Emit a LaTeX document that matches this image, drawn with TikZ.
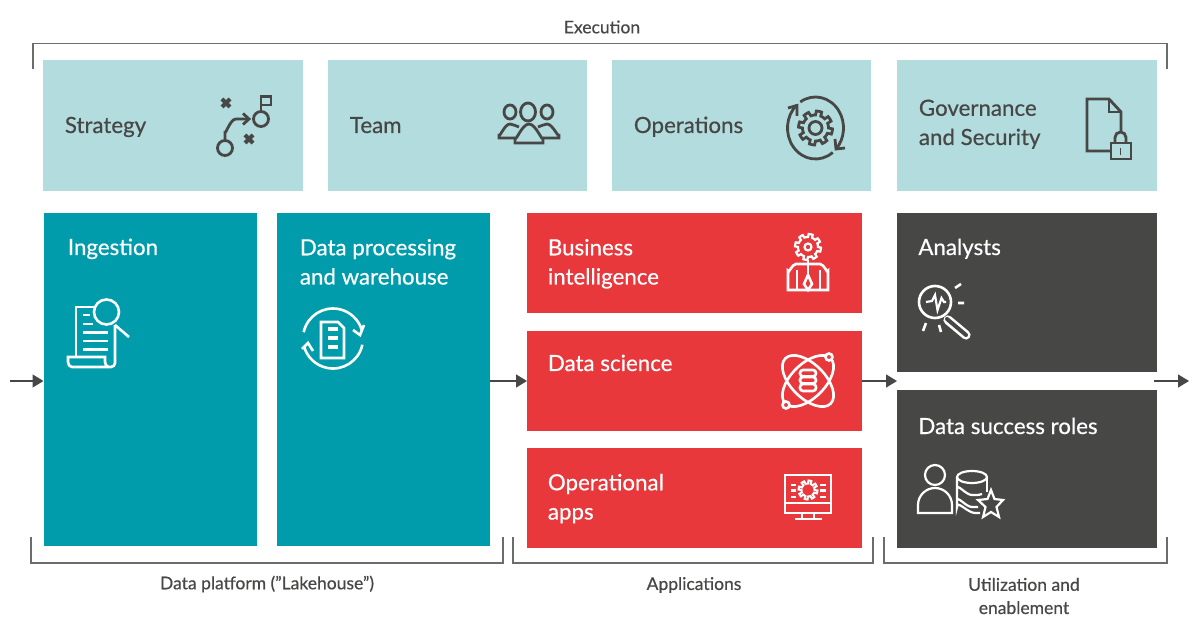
\documentclass[tikz,border=0pt]{standalone}
\usepackage{fontspec}
\setmainfont{Lato}[RawFeature={embolden=0.5}]
\usetikzlibrary{arrows.meta}
\definecolor{paleteal}{HTML}{B2DCDE}
\definecolor{deepteal}{HTML}{009CAB}
\definecolor{brightred}{HTML}{E8383C}
\definecolor{charcoal}{HTML}{474746}
\tikzset{
  panel/.style={inner sep=0pt, outer sep=0pt, anchor=north west},
  title/.style={inner sep=0pt, anchor=base west, align=left, font=\fontsize{11.15}{14.6}\selectfont},
  caption/.style={inner sep=0pt, align=center, text=charcoal, font=\fontsize{8.75}{11.6}\selectfont},
  link/.style={charcoal, line width=0.7pt, -{Triangle[length=5.5pt,width=6.5pt]}},
  bracket/.style={charcoal!80, line width=0.65pt},
  darkicon/.style={charcoal, line width=1.4pt},
  lighticon/.style={white, line width=1.3pt}
}
% a gear outline: centre x, centre y, inner radius, outer radius
\newcommand{\geartrace}[4]{plot[samples=121, domain=0:360, variable=\t] ({#1+(#3+(#4-#3)*(sin(8*\t)>0))*cos(\t)},{#2+(#3+(#4-#3)*(sin(8*\t)>0))*sin(\t)}) -- cycle}
\begin{document}
\begin{tikzpicture}[x=0.5pt,y=-0.5pt]
    \useasboundingbox (0,0) rectangle (1200,636);

    % Top row
    \node[panel, fill=paleteal, minimum width=130pt, minimum height=65.5pt] (strategy) at (43,60) {};
    \node[panel, fill=paleteal, minimum width=129.5pt, minimum height=65.5pt] (team) at (328,60) {};
    \node[panel, fill=paleteal, minimum width=129.5pt, minimum height=65.5pt] (operations) at (612,60) {};
    \node[panel, fill=paleteal, minimum width=130pt, minimum height=65.5pt] (governance) at (897,60) {};
    \node[title, text=charcoal] (strategytext) at (64.5,133) {Strategy};
    \node[title, text=charcoal] (teamtext) at (349.5,133) {Team};
    \node[title, text=charcoal] (operationstext) at (633.5,133) {Operations};
    \node[title, text=charcoal] (governancetext) at (918.5,145) {Governance\\and Security};

    % Data platform
    \node[panel, fill=deepteal, minimum width=106.75pt, minimum height=166.5pt] (ingestion) at (43.5,213) {};
    \node[panel, fill=deepteal, minimum width=106.5pt, minimum height=166.5pt] (processing) at (277,213) {};
    \node[title, text=white] (ingestiontext) at (67.5,255) {Ingestion};
    \node[title, text=white] (processingtext) at (299.5,284.5) {Data processing\\and warehouse};

    % Applications
    \node[panel, fill=brightred, minimum width=167.5pt, minimum height=50pt] (business) at (527,213) {};
    \node[panel, fill=brightred, minimum width=167.5pt, minimum height=50pt] (science) at (527,331) {};
    \node[panel, fill=brightred, minimum width=167.5pt, minimum height=50pt] (apps) at (527,448) {};
    \node[title, text=white] (businesstext) at (547.5,284.5) {Business\\intelligence};
    \node[title, text=white] (sciencetext) at (547.5,371) {Data science};
    \node[title, text=white] (appstext) at (547.5,519.5) {Operational\\apps};

    % Utilization
    \node[panel, fill=charcoal, minimum width=130pt, minimum height=79.5pt] (analysts) at (897,213) {};
    \node[panel, fill=charcoal, minimum width=130pt, minimum height=79pt] (roles) at (897,390) {};
    \node[title, text=white] (analyststext) at (918,255) {Analysts};
    \node[title, text=white] (rolestext) at (918,434) {Data success roles};

    % Brackets and their captions
    \draw[bracket] (33,69) -- (33,43.5) -- (1167,43.5) -- (1167,69);
    \draw[bracket] (31,537) -- (31,563) -- (503,563) -- (503,537);
    \draw[bracket] (513,537) -- (513,563) -- (873,563) -- (873,537);
    \draw[bracket] (884,537) -- (884,563) -- (1167,563) -- (1167,537);
    \node[caption] (execution) at (602,27) {Execution};
    \node[caption] (platform) at (267,584) {Data platform (”Lakehouse”)};
    \node[caption] (applications) at (694,585) {Applications};
    \node[caption] (utilization) at (1024,596) {Utilization and\\enablement};

    % Flow through the picture
    \coordinate (flowin) at (10,381);
    \coordinate (flowout) at (1189,381);
    \draw[link] (flowin) -- (flowin -| ingestion.west);
    \draw[link] (flowin -| processing.east) -- (flowin -| science.west);
    \draw[link] (flowin -| science.east) -- (flowin -| analysts.west);
    \draw[link, shorten <=-1.5pt] (flowout -| analysts.east) -- (flowout);

    % Strategy icon
    \draw[darkicon] (225,148) circle (7.5) (261,119) circle (7.5);
    \draw[darkicon] (225,140.5) -- (225,131) to[out=-90,in=180] (236,119) -- (248,119);
    \draw[darkicon] (243,113.5) -- (249,119) -- (243,124.5);
    \draw[darkicon] (261,111.5) -- (261,96.5) -- (271,96.5) -- (271,105) -- (261,105);
    \draw[darkicon, line width=2pt] (222,99) -- (230,107) (230,99) -- (222,107);
    \draw[darkicon, line width=2pt] (245,135) -- (253,143) (253,135) -- (245,143);

    % Team icon
    \draw[darkicon] (510,112) ellipse (6 and 7) (528,112) ellipse (7.5 and 9) (547,112) ellipse (6 and 7);
    \draw[darkicon] (515,138) -- (499,138) -- (499,134) to[out=-90,in=180] (510,124) to[out=0,in=170] (519,127);
    \draw[darkicon] (538,127) to[out=10,in=180] (547,124) to[out=0,in=-90] (559,134) -- (559,138) -- (543,138);
    \draw[darkicon] (515,143) -- (515,137) to[out=-90,in=180] (529,124) to[out=0,in=-90] (543,137) -- (543,143) -- cycle;

    % Operations icon
    \draw[darkicon] \geartrace{815.5}{128}{13}{17};
    \draw[darkicon] (815.5,128) circle (6.5);
    \draw[darkicon] (815.5,128) ++(-123:28 and 31) arc[start angle=-123, end angle=42, x radius=28, y radius=31];
    \draw[darkicon] (815.5,128) ++(52:28 and 31) arc[start angle=52, end angle=228, x radius=28, y radius=31];
    \draw[darkicon] (788,108) -- (797,105.5) -- (797,116);
    \draw[darkicon] (835,139) -- (836,149) -- (845,148);

    % Governance icon
    \draw[darkicon] (1110,151) -- (1087,151) -- (1087,99) -- (1109,99) -- (1121,112) -- (1121,132);
    \draw[darkicon] (1109,99) -- (1109,112) -- (1121,112);
    \draw[darkicon] (1111,143) rectangle (1131,159);
    \draw[darkicon] (1115,143) -- (1115,137.5) arc[start angle=180, end angle=360, radius=5.5] -- (1126,143);
    \draw[darkicon, line width=0.9pt] (1120.5,148) -- (1120.5,155);

    % Ingestion icon
    \draw[lighticon] (76,357) -- (76,307) -- (96,307);
    \draw[lighticon] (115,325) -- (115,363) to[out=-90,in=0] (111,367) -- (72,367) to[out=180,in=-90] (68,362) -- (68,357) -- (105,357) -- (105,362) to[out=-90,in=180] (109,367);
    \draw[lighticon] (106.5,312) circle (12.5);
    \draw[lighticon] (115,325) -- (129,337);
    \draw[lighticon] (83,315) -- (90,315) (83,324) -- (93,324) (83,332.5) -- (108,332.5) (83,341) -- (108,341) (83,349.5) -- (108,349.5);

    % Processing icon
    \draw[lighticon] (321,358) -- (321,322) -- (338,322) -- (344,328) -- (344,358) -- cycle;
    \draw[lighticon, line width=2.2pt] (328,329) -- (338,329) (328,338) -- (338,338) (328,347) -- (338,347);
    \draw[lighticon] (333,338.5) ++(192:30) arc[start angle=192, end angle=345, radius=30];
    \draw[lighticon] (333,338.5) ++(12:30) arc[start angle=12, end angle=165, radius=30];
    \draw[lighticon] (353,330) -- (360,335) -- (364,325);
    \draw[lighticon] (302,349) -- (308,343) -- (313,351);

    % Business intelligence icon
    \draw[lighticon, line width=1.1pt] \geartrace{808}{247}{10}{13};
    \draw[lighticon, line width=1.1pt] (808,247) circle (3.5);
    \draw[lighticon] (808,260) -- (808,275);
    \draw[lighticon] (788,290) -- (788,271) to[out=-90,in=180] (796,264) -- (820,264) to[out=0,in=-90] (828,271) -- (828,290) -- cycle;
    \draw[lighticon] (797,270) -- (797,290) (820,270) -- (820,290);
    \draw[lighticon] (808,275) -- (812,284) -- (808,290) -- (804,284) -- cycle;

    % Data science icon
    \draw[lighticon] (808,381) circle[x radius=32, y radius=17, rotate=-45];
    \draw[lighticon] (808,381) circle[x radius=32, y radius=17, rotate=45];
    \draw[lighticon, fill=brightred] (829,357) circle (3.5) (786,405) circle (3.5);
    \draw[lighticon, fill=brightred, rounded corners=1.5pt] (800,370) rectangle (816,376.5);
    \draw[lighticon, fill=brightred, rounded corners=1.5pt] (800,377) rectangle (816,383.5);
    \draw[lighticon, fill=brightred, rounded corners=1.5pt] (800,384) rectangle (816,391);

    % Operational apps icon
    \draw[lighticon] (785,475) rectangle (831,513);
    \draw[lighticon] (785,503) -- (831,503) (802,513) -- (802,519) (814,513) -- (814,519) (795,519) -- (822,519);
    \draw[lighticon, line width=1pt] \geartrace{808}{490}{6.5}{9.5};
    \draw[lighticon] (791,485) -- (796,485) (791,490.5) -- (796,490.5) (791,497) -- (796,497);
    \draw[lighticon] (820,485) -- (826,485) (820,490.5) -- (826,490.5) (820,497) -- (826,497);

    % Analysts icon
    \draw[lighticon] (935,302) circle (16);
    \draw[lighticon, line width=1.1pt] (926,302) -- (932,301) -- (935,295) -- (937.5,310) -- (941.5,298) -- (944,302) -- (946,302);
    \draw[white, line width=4.6pt, line cap=round] (948,320) -- (966,335);
    \draw[charcoal, line width=2pt, line cap=round] (947,319) -- (966,335);
    \draw[lighticon] (955,288) -- (961,284) (958,303) -- (964,303) (923,331) -- (926,323) (941,332) -- (939,325);

    % Data success roles icon
    \draw[lighticon, line width=1.1pt] (935,475) ellipse (10 and 10);
    \draw[lighticon, line width=1.1pt] (918,513) -- (918,505) arc[start angle=180, end angle=360, radius=17] -- (952,513) -- cycle;
    \draw[lighticon, line width=1.1pt] (972,477) ellipse (15 and 6);
    \draw[lighticon, line width=1.1pt] (957,477) -- (957,507) to[out=90,in=180] (975,513) -- (980,513);
    \draw[lighticon, line width=1.1pt] (987,477) -- (987,492);
    \draw[lighticon, line width=1.1pt] (957,489) to[out=90,in=180] (972,495) to[out=0,in=-160] (982,494);
    \draw[lighticon, line width=1.1pt] (957,501) to[out=90,in=180] (972,507) -- (978,507);
    \draw[lighticon, line width=1.1pt, fill=charcoal] (991,490) -- (994.5,499) -- (1003,500) -- (996.5,507) -- (999,517) -- (991,512) -- (983,517) -- (985.5,507) -- (978,500) -- (987.5,499) -- cycle;
\end{tikzpicture}
\end{document}
